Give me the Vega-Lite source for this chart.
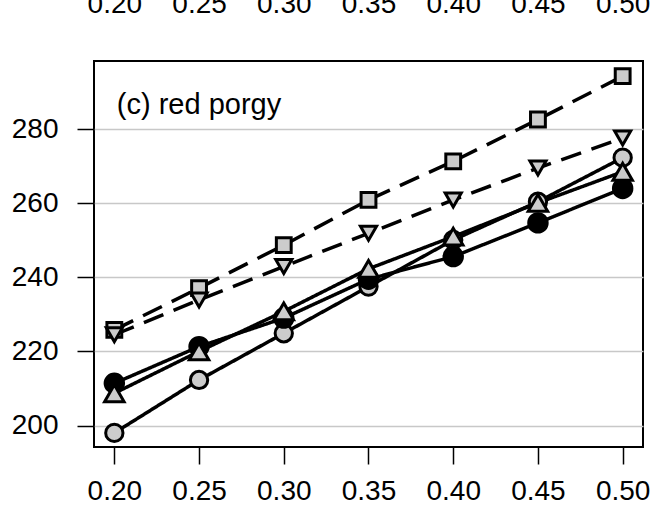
{
  "$schema": "https://vega.github.io/schema/vega-lite/v6.json",
  "width": 549,
  "height": 386,
  "autosize": {"type": "none"},
  "padding": {"left": 94, "top": 61, "right": 8, "bottom": 68},
  "background": "white",
  "config": {
    "font": "Liberation Sans",
    "view": {"stroke": "black", "strokeWidth": 2},
    "axis": {
      "labelFont": "Liberation Sans",
      "labelFontSize": 28,
      "labelColor": "black",
      "tickColor": "black",
      "tickWidth": 1.5,
      "tickSize": 17,
      "domain": false,
      "title": null
    }
  },
  "datasets": {
    "pts": [
      {"series": "S", "x": 0.20, "y": 225.8},
      {"series": "S", "x": 0.25, "y": 237.1},
      {"series": "S", "x": 0.30, "y": 248.7},
      {"series": "S", "x": 0.35, "y": 260.9},
      {"series": "S", "x": 0.40, "y": 271.3},
      {"series": "S", "x": 0.45, "y": 282.6},
      {"series": "S", "x": 0.50, "y": 294.3},
      {"series": "D", "x": 0.20, "y": 224.5},
      {"series": "D", "x": 0.25, "y": 233.9},
      {"series": "D", "x": 0.30, "y": 242.9},
      {"series": "D", "x": 0.35, "y": 251.9},
      {"series": "D", "x": 0.40, "y": 260.9},
      {"series": "D", "x": 0.45, "y": 269.5},
      {"series": "D", "x": 0.50, "y": 277.6},
      {"series": "G", "x": 0.20, "y": 198.0},
      {"series": "G", "x": 0.25, "y": 212.3},
      {"series": "G", "x": 0.30, "y": 224.9},
      {"series": "G", "x": 0.35, "y": 237.5},
      {"series": "G", "x": 0.40, "y": 250.1},
      {"series": "G", "x": 0.45, "y": 260.4},
      {"series": "G", "x": 0.50, "y": 272.3},
      {"series": "B", "x": 0.20, "y": 211.4},
      {"series": "B", "x": 0.25, "y": 221.3},
      {"series": "B", "x": 0.30, "y": 229.0},
      {"series": "B", "x": 0.35, "y": 239.5},
      {"series": "B", "x": 0.40, "y": 245.6},
      {"series": "B", "x": 0.45, "y": 254.7},
      {"series": "B", "x": 0.50, "y": 264.0},
      {"series": "U", "x": 0.20, "y": 208.7},
      {"series": "U", "x": 0.25, "y": 220.0},
      {"series": "U", "x": 0.30, "y": 230.8},
      {"series": "U", "x": 0.35, "y": 242.3},
      {"series": "U", "x": 0.40, "y": 251.0},
      {"series": "U", "x": 0.45, "y": 260.1},
      {"series": "U", "x": 0.50, "y": 268.5}
    ]
  },
  "resolve": {"axis": {"x": "independent"}},
  "layer": [
    {
      "data": {"name": "pts"},
      "mark": {"type": "line", "color": "black", "strokeWidth": 3.5, "strokeCap": "butt"},
      "encoding": {
        "x": {
          "field": "x", "type": "quantitative",
          "scale": {"domain": [0.188, 0.512], "nice": false, "zero": false},
          "axis": {
            "orient": "top", "values": [0.2, 0.25, 0.3, 0.35, 0.4, 0.45, 0.5], "format": ".2f",
            "ticks": false, "tickSize": 0, "labelPadding": 49, "labelBaseline": "alphabetic",
            "grid": false, "labelFlush": false, "labelOverlap": false
          }
        },
        "y": {
          "field": "y", "type": "quantitative",
          "scale": {"domain": [194.2, 298.4], "nice": false, "zero": false},
          "axis": {
            "values": [200, 220, 240, 260, 280], "grid": true, "gridColor": "#c8c8c8", "gridWidth": 1.5,
            "labelPadding": 19
          }
        },
        "detail": {"field": "series"},
        "strokeDash": {
          "field": "series", "type": "nominal",
          "scale": {"domain": ["S", "D", "G", "B", "U"], "range": [[21, 11], [21, 11], [1, 0], [1, 0], [1, 0]]},
          "legend": null
        }
      }
    },
    {
      "data": {"name": "pts"},
      "mark": {"type": "point", "filled": true, "stroke": "black", "strokeWidth": 3, "opacity": 1},
      "encoding": {
        "x": {
          "field": "x", "type": "quantitative",
          "scale": {"domain": [0.188, 0.512], "nice": false, "zero": false},
          "axis": {
            "orient": "bottom", "values": [0.2, 0.25, 0.3, 0.35, 0.4, 0.45, 0.5], "format": ".2f",
            "labelPadding": 13, "grid": false, "labelFlush": false, "labelOverlap": false
          }
        },
        "y": {"field": "y", "type": "quantitative"},
        "shape": {
          "field": "series", "type": "nominal",
          "scale": {"domain": ["S", "D", "G", "B", "U"], "range": ["square", "triangle-down", "circle", "circle", "triangle-up"]},
          "legend": null
        },
        "fill": {
          "field": "series", "type": "nominal",
          "scale": {"domain": ["S", "D", "G", "B", "U"], "range": ["#cccccc", "#cccccc", "#cccccc", "black", "#cccccc"]},
          "legend": null
        },
        "size": {
          "field": "series", "type": "nominal",
          "scale": {"domain": ["S", "D", "G", "B", "U"], "range": [220, 380, 340, 340, 380]},
          "legend": null
        }
      }
    },
    {
      "data": {"values": [{"label": "(c) red porgy"}]},
      "mark": {"type": "text", "align": "left", "baseline": "alphabetic", "fontSize": 29, "font": "Liberation Sans", "color": "black", "dx": 2.5},
      "encoding": {
        "x": {"datum": 0.2, "type": "quantitative", "axis": null},
        "y": {"datum": 284.2, "type": "quantitative"},
        "text": {"field": "label"}
      }
    }
  ]
}
